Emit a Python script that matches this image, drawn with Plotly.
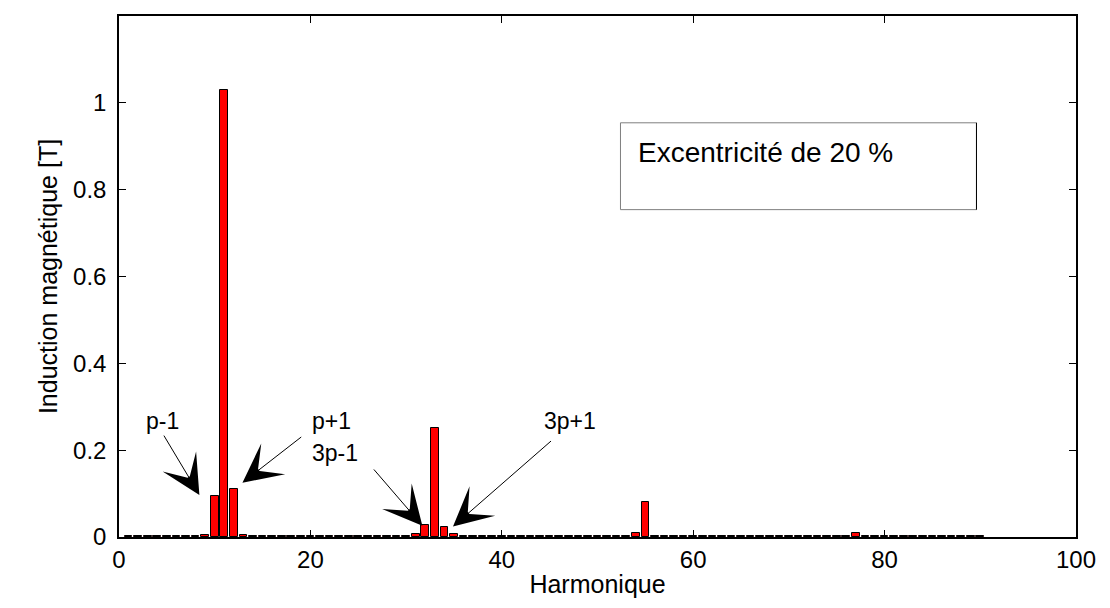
import plotly.graph_objects as go

# ---- data ----
harmonics = list(range(1, 91))
amplitude = [
    0.003, 0.003, 0.003, 0.003, 0.003, 0.003, 0.003, 0.003, 0.005, 0.095,   # 1-10
    1.030, 0.111, 0.005, 0.003, 0.003, 0.003, 0.003, 0.003, 0.003, 0.003,   # 11-20
    0.003, 0.003, 0.003, 0.003, 0.003, 0.003, 0.003, 0.003, 0.003, 0.003,   # 21-30
    0.006, 0.028, 0.251, 0.023, 0.006, 0.003, 0.003, 0.003, 0.003, 0.003,   # 31-40
    0.003, 0.003, 0.003, 0.003, 0.003, 0.003, 0.003, 0.003, 0.003, 0.003,   # 41-50
    0.003, 0.003, 0.003, 0.010, 0.080, 0.003, 0.003, 0.003, 0.003, 0.003,   # 51-60
    0.003, 0.003, 0.003, 0.003, 0.003, 0.003, 0.003, 0.003, 0.003, 0.003,   # 61-70
    0.003, 0.003, 0.003, 0.003, 0.003, 0.003, 0.009, 0.003, 0.003, 0.003,   # 71-80
    0.003, 0.003, 0.003, 0.003, 0.003, 0.003, 0.003, 0.003, 0.003, 0.003,   # 81-90
]
x_ticks = [0, 20, 40, 60, 80, 100]
y_ticks = [0, 0.2, 0.4, 0.6, 0.8, 1]
y_tick_labels = ["0", "0.2", "0.4", "0.6", "0.8", "1"]

# annotation labels and arrows (data coordinates)
arrow_labels = ["p-1", "p+1", "3p-1", "3p+1"]
label_x = [4.5, 22.2, 22.6, 47.1]
label_y = [0.268, 0.268, 0.194, 0.268]
tail_x = [4.6, 19.2, 26.5, 45.3]
tail_y = [0.237, 0.233, 0.159, 0.224]
tip_x = [8.4, 12.9, 31.7, 34.9]
tip_y = [0.097, 0.125, 0.026, 0.024]

legend_text = "Excentricité de 20 %"

FONT = "Liberation Sans, Arial, sans-serif"

fig = go.Figure()
fig.add_trace(go.Bar(
    x=harmonics, y=amplitude, width=0.8,
    marker=dict(color="#ff0000", line=dict(color="black", width=1)),
    showlegend=False,
))

for t, lx, ly in zip(arrow_labels, label_x, label_y):
    fig.add_annotation(x=lx, y=ly, xref="x", yref="y", text=t, showarrow=False,
                       font=dict(family=FONT, size=23, color="black"))

for txx, tyy, hx, hy in zip(tail_x, tail_y, tip_x, tip_y):
    fig.add_annotation(x=hx, y=hy, xref="x", yref="y", ax=txx, ay=tyy,
                       axref="x", ayref="y", text="", showarrow=True,
                       arrowhead=3, arrowsize=6.5, arrowwidth=1, arrowcolor="black")

# legend-like text box
fig.add_shape(type="rect", xref="x", yref="y", x0=52.4, x1=89.6, y0=0.754, y1=0.954,
              line=dict(color="#7f7f7f", width=1), fillcolor="white", layer="above")
fig.add_shape(type="line", xref="x", yref="y", x0=89.6, x1=89.6, y0=0.754, y1=0.954,
              line=dict(color="black", width=1), layer="above")
fig.add_annotation(x=54.0, y=0.886, xref="x", yref="y", text=legend_text,
                   showarrow=False, xanchor="left", yanchor="middle",
                   font=dict(family=FONT, size=28, color="black"))

fig.update_layout(
    width=1110, height=608,
    margin=dict(l=119, r=34, t=16, b=71),
    paper_bgcolor="white", plot_bgcolor="white",
    bargap=0,
    font=dict(family=FONT, color="black"),
)
fig.update_xaxes(
    range=[0, 100], tickvals=x_ticks, ticks="inside", ticklen=7, tickcolor="black",
    showline=True, linecolor="black", linewidth=1.5, mirror="ticks",
    showgrid=False, zeroline=False,
    tickfont=dict(family=FONT, size=24, color="black"),
    title=dict(text="Harmonique", font=dict(family=FONT, size=25, color="black"), standoff=4),
)
fig.update_yaxes(
    range=[0, 1.2], tickvals=y_ticks, ticktext=y_tick_labels, ticks="inside", ticklen=7,
    tickcolor="black", showline=True, linecolor="black", linewidth=1.5, mirror="ticks",
    showgrid=False, zeroline=False, ticklabelstandoff=6,
    tickfont=dict(family=FONT, size=24, color="black"),
    title=dict(text="Induction magnétique [T]", font=dict(family=FONT, size=25, color="black"), standoff=8),
)

fig.write_html("out.html")
